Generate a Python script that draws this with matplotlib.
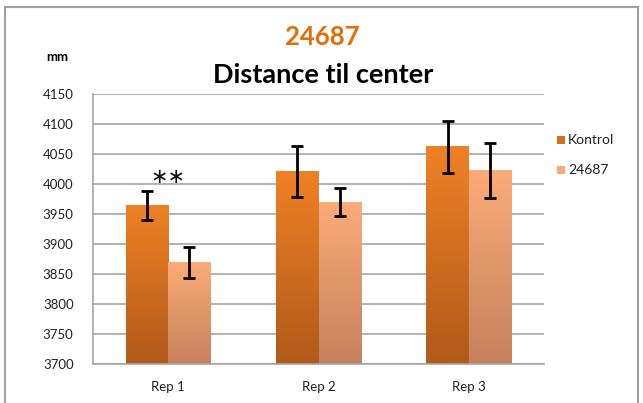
import matplotlib
import matplotlib.pyplot as plt
import numpy as np
from matplotlib.patches import Rectangle

matplotlib.rc('font', family='Lato')

categories = ['Rep 1', 'Rep 2', 'Rep 3']
series = ['Kontrol', '24687']
kontrol = [3964, 4021, 4062]
kontrol_err = [24, 43, 43]
mutant = [3869, 3970, 4023]
mutant_err = [26, 23, 46]

# top / bottom colours of the gradient fill
grad = {
    'Kontrol': ('#EE8125', '#B15A1A'),
    '24687': ('#FBAB78', '#C7815D'),
}

fig = plt.figure(figsize=(6.43, 4.03), dpi=100)
ax = fig.add_axes([93/643, 1-364/403, (544-93)/643, 270/403])

x = np.arange(len(categories))
width = 0.283
ymin, ymax = 3700, 4150

def grad_bar(xc, val, c_top, c_bot):
    top = np.array(matplotlib.colors.to_rgb(c_top))
    bot = np.array(matplotlib.colors.to_rgb(c_bot))
    t = np.linspace(0, 1, 100)[:, None]
    img = (bot * (1 - t) + top * t)[:, None, :]
    ax.imshow(img, extent=[xc - width/2, xc + width/2, ymin, val],
              origin='lower', aspect='auto', zorder=2)

for i in range(len(categories)):
    grad_bar(x[i] - width/2, kontrol[i], *grad['Kontrol'])
    grad_bar(x[i] + width/2, mutant[i], *grad['24687'])

ax.errorbar(x - width/2, kontrol, yerr=kontrol_err, fmt='none', ecolor='black',
            elinewidth=2, capsize=4, capthick=2, zorder=3)
ax.errorbar(x + width/2, mutant, yerr=mutant_err, fmt='none', ecolor='black',
            elinewidth=2, capsize=4, capthick=2, zorder=3)

# significance mark, centred over Rep 1
ax.text(x[0], 4012, '∗∗', ha='center', va='center', fontsize=15,
        family='DejaVu Sans', color='#111111', zorder=4)

ax.set_xlim(-0.5, 2.5)
ax.set_ylim(ymin, ymax)
ax.set_yticks(np.arange(3700, 4151, 50))
ax.set_xticks(x, labels=categories)
ax.yaxis.grid(True, color='#A6A6A6', linewidth=1.2, zorder=0)
ax.set_axisbelow(True)
for s in ['top', 'right']:
    ax.spines[s].set_visible(False)
ax.spines['left'].set_color('#A6A6A6')
ax.spines['bottom'].set_color('#A6A6A6')
ax.spines['left'].set_linewidth(1.2)
ax.spines['bottom'].set_linewidth(1.2)
ax.tick_params(axis='both', length=0, labelsize=9.5, colors='#222222')
ax.tick_params(axis='y', pad=14)
ax.tick_params(axis='x', pad=12)

fig.text(322/643, 1-37/403, '24687', ha='center', va='center', fontsize=18.5,
         fontweight='bold', color='#E46C0A')
fig.text(323/643, 1-75/403, 'Distance til center', ha='center', va='center',
         fontsize=19.5, fontweight='bold', color='black')
fig.text(57/643, 1-57/403, 'mm', ha='center', va='center', fontsize=9.5,
         fontweight='bold', color='black')

# legend
for j, name in enumerate(series):
    ly = 1 - (140 + 30*j)/403
    fig.patches.append(Rectangle((557/643, ly - 4/403), 8/643, 8/403,
                                 transform=fig.transFigure,
                                 facecolor=grad[name][0] if j else '#D66F1F',
                                 edgecolor='none'))
    fig.text(568/643, ly, name, ha='left', va='center', fontsize=10, color='#222222')

# outer frame
fig.add_artist(plt.Line2D([5/643, 5/643], [0, 1-7/403], transform=fig.transFigure, color='#A0A0A0', lw=1.5))
fig.add_artist(plt.Line2D([5/643, 638/643], [1-7/403, 1-7/403], transform=fig.transFigure, color='#A0A0A0', lw=1.5))
fig.add_artist(plt.Line2D([638/643, 638/643], [0, 1-7/403], transform=fig.transFigure, color='#A0A0A0', lw=1.5))

plt.savefig('out.png', dpi=100)
